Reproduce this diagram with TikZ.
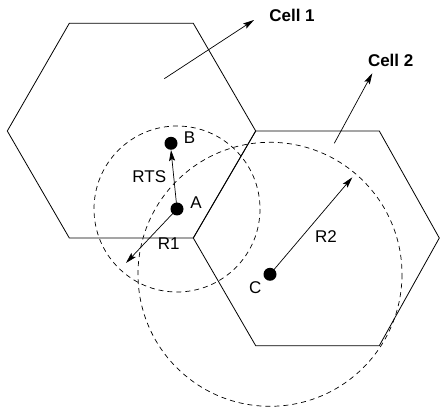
\documentclass[tikz,border=0pt]{standalone}
\usepackage{fontspec}
\setmainfont{Liberation Sans}
\usetikzlibrary{arrows.meta}
\begin{document}
\begin{tikzpicture}[x=1pt,y=-1pt,
  every node/.style={font=\fontsize{17}{20}\selectfont, inner sep=0pt},
  hex/.style={draw, line width=0.8pt},
  rng/.style={draw, dashed, dash pattern=on 5pt off 4pt, line width=0.7pt},
  arr/.style={draw, line width=0.7pt, -{Stealth[length=11pt,width=6pt,inset=2pt]}},
  dot/.style={circle, fill=black, minimum size=13pt, inner sep=0pt}]
\useasboundingbox (0,0) rectangle (440,412);
% cells
\draw[hex] (69.3,23.3) -- (193.3,23.3) -- (255.7,131) -- (193.3,238) -- (69.3,238) -- (7.3,131) -- cycle;
\draw[hex] (255.7,131) -- (379.3,131) -- (439.3,238) -- (379.3,345.7) -- (255.7,345.7) -- (193.3,238) -- cycle;
% nodes
\node[dot] (B) at (171,143.3) {};
\node[dot] (A) at (177,209) {};
\node[dot] (C) at (270,274.3) {};
% ranges
\draw[rng] (A.center) circle (83);
\draw[rng] (C.center) circle (132);
% labels
\node (lB) at (189.5,137.5) {B};
\node (lA) at (196,202.5) {A};
\node (lC) at (255.3,287.3) {C};
\node (lRTS) at (149.3,176.7) {RTS};
\node (lR1) at (168.7,244) {R1};
\node (lR2) at (326,236.7) {R2};
\node[font=\fontsize{17}{20}\selectfont\bfseries] (c1) at (292,15) {Cell 1};
\node[font=\fontsize{17}{20}\selectfont\bfseries] (c2) at (390.7,60.7) {Cell 2};
% arrows
\coordinate (r1end) at (126,263);
\coordinate (r2end) at (352.3,177.3);
\coordinate (c1s) at (164.3,78.7);
\coordinate (c1e) at (254,20);
\coordinate (c2s) at (334.3,143.3);
\coordinate (c2e) at (372.3,73.3);
\draw[arr] (A.center) -- (B.south);
\draw[arr] (A.center) -- (r1end);
\draw[arr] (C.center) -- (r2end);
\draw[arr] (c1s) -- (c1e);
\draw[arr] (c2s) -- (c2e);
\end{tikzpicture}
\end{document}
